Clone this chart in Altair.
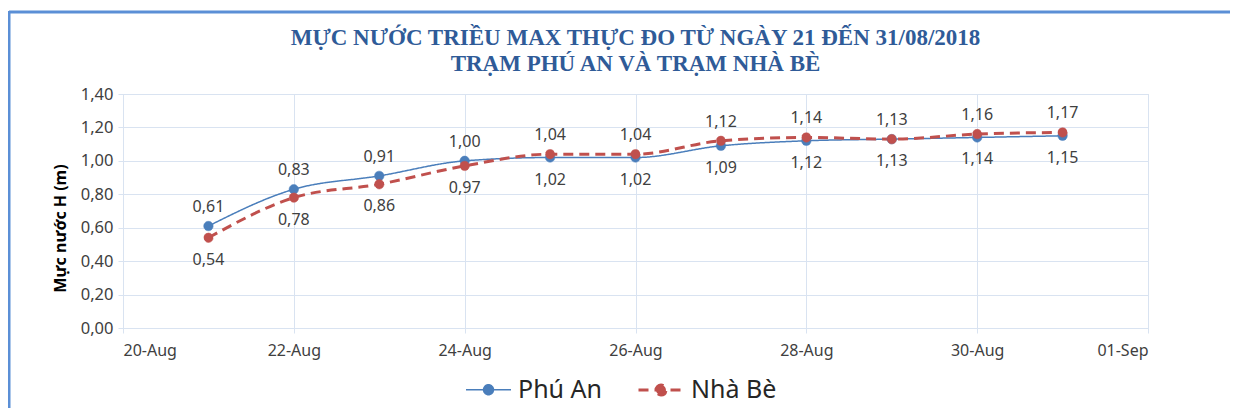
import altair as alt
import pandas as pd

dates = ["2018-08-21", "2018-08-22", "2018-08-23", "2018-08-24", "2018-08-25",
         "2018-08-26", "2018-08-27", "2018-08-28", "2018-08-29", "2018-08-30", "2018-08-31"]
phu_an = [0.61, 0.83, 0.91, 1.00, 1.02, 1.02, 1.09, 1.12, 1.13, 1.14, 1.15]
nha_be = [0.54, 0.78, 0.86, 0.97, 1.04, 1.04, 1.12, 1.14, 1.13, 1.16, 1.17]
series_names = ["Phú An", "Nhà Bè"]
title_lines = ["MỰC NƯỚC TRIỀU MAX THỰC ĐO TỪ NGÀY 21 ĐẾN 31/08/2018",
               "TRẠM PHÚ AN VÀ TRẠM NHÀ BÈ"]
y_title = "Mực nước H (m)"
y_ticks = [0, 0.2, 0.4, 0.6, 0.8, 1.0, 1.2, 1.4]

rows = []
for d, a, b in zip(dates, phu_an, nha_be):
    rows.append({"date": d, "value": a, "series": series_names[0], "above": a > b})
    rows.append({"date": d, "value": b, "series": series_names[1], "above": b >= a})
df = pd.DataFrame(rows)

colors = ["#4a7ebb", "#c0504d"]
grid_c = "#d9e3f1"
font = "Noto Sans"

x_enc = alt.X("date:T",
              scale=alt.Scale(type="utc",
                              domain=[alt.DateTime(year=2018, month=8, date=20, utc=True),
                                      alt.DateTime(year=2018, month=9, date=1, utc=True)]),
              axis=alt.Axis(title=None, format="%d-%b",
                            values=[alt.DateTime(year=2018, month=8, date=dd, utc=True) for dd in [20, 22, 24, 26, 28, 30]] +
                                   [alt.DateTime(year=2018, month=9, date=1, utc=True)],
                            labelFontSize=16, labelColor="#404040", labelFont=font,
                            labelPadding=9, tickSize=5, tickColor=grid_c, labelOverlap=False,
                            domainColor=grid_c, gridColor=grid_c, grid=True))
y_enc = alt.Y("value:Q",
              scale=alt.Scale(domain=[0, 1.4]),
              axis=alt.Axis(title=y_title, values=y_ticks, tickCount=len(y_ticks),
                            labelExpr="replace(format(datum.value, '.2f'), '.', ',')",
                            labelFontSize=16.5, labelColor="#404040", labelFont=font,
                            labelPadding=5, tickSize=5, tickColor=grid_c, labelOverlap=False,
                            domainColor=grid_c, gridColor=grid_c, grid=True,
                            titleFont=font, titleFontSize=16, titleFontWeight="bold",
                            titleColor="#000000", titlePadding=12, titleY=134))

color_scale = alt.Scale(domain=series_names, range=colors)
dash_scale = alt.Scale(domain=series_names, range=[[1, 0], [10, 6]])

legend = alt.Legend(title=None, orient="none", direction="horizontal",
                    legendX=342, legendY=272,
                    labelFontSize=25, labelColor="#262626", labelFont=font,
                    symbolType="M-1,0L1,0M-0.22,0A0.22,0.22,0,1,1,0.22,0A0.22,0.22,0,1,1,-0.22,0Z",
                    symbolSize=2025, symbolStrokeWidth=2, symbolOpacity=1,
                    columnPadding=30, labelOffset=6)

base = alt.Chart(df)

lines = base.mark_line(interpolate="monotone").encode(
    x=x_enc, y=y_enc,
    color=alt.Color("series:N", scale=color_scale),
    strokeDash=alt.StrokeDash("series:N", scale=dash_scale),
    strokeWidth=alt.StrokeWidth("series:N", scale=alt.Scale(domain=series_names, range=[1.5, 3]),
                                legend=None),
)
points = base.mark_point(filled=False, opacity=1, fillOpacity=1, size=90, strokeWidth=0.5).encode(
    x="date:T", y="value:Q",
    color=alt.Color("series:N", scale=color_scale, legend=legend),
    fill=alt.Fill("series:N", scale=color_scale, legend=legend),
    strokeDash=alt.StrokeDash("series:N", scale=dash_scale, legend=legend),
)
label_base = base.transform_calculate(
    label="replace(format(datum.value, '.2f'), '.', ',')"
)
labels_above = label_base.transform_filter("datum.above").mark_text(
    font=font, fontSize=16, color="#404040", baseline="middle", dy=-19
).encode(x="date:T", y="value:Q", text="label:N")
labels_below = label_base.transform_filter("!datum.above").mark_text(
    font=font, fontSize=16, color="#404040", baseline="middle", dy=22
).encode(x="date:T", y="value:Q", text="label:N")

border_top = alt.Chart(pd.DataFrame({"a": [0]})).mark_rule(color="#5b8fd6", strokeWidth=3).encode(
    x=alt.value(-114), x2=alt.value(1115), y=alt.value(-82))
border_left = alt.Chart(pd.DataFrame({"a": [0]})).mark_rule(color="#5b8fd6", strokeWidth=3).encode(
    x=alt.value(-114), y=alt.value(-83), y2=alt.value(322))

chart = alt.layer(lines, points, labels_above, labels_below, border_top, border_left).properties(
    width=1025, height=234,
    padding={"left": 115, "top": 86, "right": 82, "bottom": 80},
    autosize=alt.AutoSizeParams(type="none"),
    title=alt.TitleParams(text=title_lines, font="Liberation Serif", fontSize=23,
                          fontWeight="bold", color="#2f5b98", anchor="middle",
                          offset=-66, lineHeight=26),
).configure_view(stroke=None).configure(background="white")

chart.save("out.html", embed_options={"renderer": "svg", "actions": False})
